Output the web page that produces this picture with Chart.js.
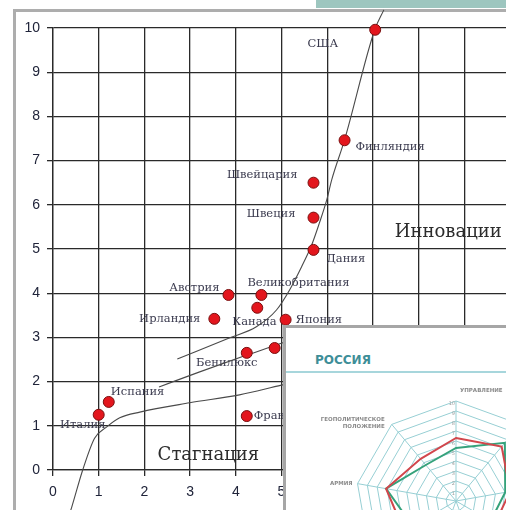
<!DOCTYPE html>
<html>
<head>
<meta charset="utf-8">
<script src="https://cdn.jsdelivr.net/npm/chart.js@4.4.1/dist/chart.umd.min.js"></script>
<style>
  body { margin: 0; width: 506px; height: 510px; overflow: hidden; background: #fff; position: relative; }
  #topband { position: absolute; left: 316px; top: 0; width: 190px; height: 8px; background: #9dc6bf; }
  #frame { position: absolute; left: 13px; top: 9px; width: 600px; height: 600px;
           border-left: 3px solid #adadad; border-top: 3px solid #adadad; }
  #mainChart { position: absolute; left: 0; top: 0; }
  #inset { position: absolute; left: 283px; top: 325px; width: 300px; height: 300px; background: #fff;
           border-left: 3px solid #a6a6a6; border-top: 3px solid #a6a6a6; overflow: hidden; }
  #inset .title { position: absolute; left: 29px; top: 26px; font: bold 12px "DejaVu Sans"; line-height: 12px;
                  color: #3e8e98; }
  #inset .rule { position: absolute; left: 0; top: 43px; width: 100%; height: 2px; background: #a7d6dc; }
  #radarChart { position: absolute; left: 20px; top: 23px; }
</style>
</head>
<body>
<div id="topband"></div>
<div id="frame"></div>
<canvas id="mainChart" width="560" height="540"></canvas>
<div id="inset">
  <div class="title">РОССИЯ</div>
  <div class="rule"></div>
  <canvas id="radarChart" width="300" height="300"></canvas>
</div>
<script>
// countries: x and y
var countries = ['США', 'Финляндия', 'Швейцария', 'Швеция', 'Дания', 'Великобритания', 'Канада', 'Япония',
                 'Австрия', 'Ирландия', 'Бенилюкс', 'Германия', 'Испания', 'Италия', 'Франция'];
var xVals = [7.05, 6.38, 5.70, 5.70, 5.70, 4.56, 4.47, 5.09, 3.84, 3.53, 4.24, 4.85, 1.22, 1.00, 4.24];
var yVals = [9.96, 7.46, 6.50, 5.71, 4.98, 3.96, 3.67, 3.40, 3.96, 3.42, 2.65, 2.76, 1.54, 1.25, 1.22];

// hand-drawn curves
var stagX = [0.36, 0.41, 0.65, 0.91, 1.17, 1.46, 1.90, 2.99, 4.08, 5.00, 5.80];
var stagY = [-1.00, -0.84, 0.00, 0.72, 0.97, 1.18, 1.31, 1.52, 1.70, 1.92, 2.10];
var midX = [2.32, 3.21, 4.24, 5.03, 5.60];
var midY = [1.88, 2.22, 2.60, 2.88, 3.10];
var innoX = [2.72, 3.87, 4.45, 4.89, 5.18, 5.44, 5.66, 5.83, 5.99, 6.10, 6.38, 7.04, 7.24];
var innoY = [2.51, 2.99, 3.24, 3.62, 4.08, 4.60, 5.09, 5.59, 6.11, 6.57, 7.47, 9.96, 10.41];

var zoneNames = ['Инновации', 'Стагнация'];
var zoneX = [8.65, 3.40];
var zoneY = [5.37, 0.34];

// inset radar
var radarAxes = ['УПРАВЛЕНИЕ', 'ЭКОНОМИКА', 'НАУКА', 'ТЕХНОЛОГИИ', 'ОБРАЗОВАНИЕ', 'ДЕМОГРАФИЯ', 'РЕСУРСЫ',
                 'АРМИЯ', ['ГЕОПОЛИТИЧЕСКОЕ', 'ПОЛОЖЕНИЕ']];
var radarRed = [6.3, 7.1, 5.5, 4.5, 6.0, 5.0, 6.0, 7.1, 5.5];
var radarGreen = [5.3, 7.6, 5.0, 4.0, 5.5, 4.5, 5.0, 7.1, 4.7];

function pairs(xs, ys) {
  return xs.map(function (x, i) { return {x: x, y: ys[i]}; });
}

// where each name sits next to its dot: [dx, dy, align]
var labelPlace = {
  'США': [-37, 14, 'right'], 'Финляндия': [11, 7, 'left'], 'Швейцария': [-16, -8, 'right'],
  'Швеция': [-18, -4, 'right'], 'Дания': [13, 9, 'left'], 'Великобритания': [-14, -12, 'left'],
  'Канада': [-25, 14, 'left'], 'Япония': [10, 0, 'left'], 'Австрия': [-9, -7, 'right'],
  'Ирландия': [-14, 0, 'right'], 'Бенилюкс': [-20, 10, 'center'], 'Германия': [10, 0, 'left'],
  'Испания': [2, -10, 'left'], 'Италия': [-16, 10, 'center'], 'Франция': [7, 0, 'left']
};

var labelPlugin = {
  id: 'countryLabels',
  beforeDatasetsDraw: function (chart) {
    var ctx = chart.ctx;
    var meta = chart.getDatasetMeta(0);
    ctx.save();
    ctx.textBaseline = 'middle';
    ctx.font = '11.5px "DejaVu Serif"';
    ctx.fillStyle = '#3a3a4e';
    meta.data.forEach(function (pt, i) {
      var p = labelPlace[countries[i]];
      ctx.textAlign = p[2];
      ctx.fillText(countries[i], pt.x + p[0], pt.y + p[1]);
    });
    ctx.font = '18px "DejaVu Serif"';
    ctx.fillStyle = '#2c2c2c';
    ctx.textAlign = 'center';
    zoneNames.forEach(function (z, i) {
      ctx.fillText(z, chart.scales.x.getPixelForValue(zoneX[i]), chart.scales.y.getPixelForValue(zoneY[i]));
    });
    ctx.restore();
  }
};

var tickFont = {family: '"Liberation Sans Narrow", "Liberation Sans", sans-serif', size: 14};
var gridLine = {color: '#2a2a2a', lineWidth: 1.3, tickLength: 6};

function curve(xs, ys) {
  return {type: 'line', data: pairs(xs, ys), borderColor: '#4a4a4a', borderWidth: 1.1,
          pointRadius: 0, fill: false, cubicInterpolationMode: 'monotone', clip: false};
}

var ctx_main = document.getElementById('mainChart').getContext('2d');
var mainChart = new Chart(ctx_main, {
  type: 'scatter',
  data: {
    datasets: [
      {data: pairs(xVals, yVals), backgroundColor: '#e3161d', borderColor: '#7a1010', borderWidth: 1,
       pointRadius: 5.5, clip: false},
      curve(stagX, stagY),
      curve(midX, midY),
      curve(innoX, innoY)
    ]
  },
  options: {
    responsive: false,
    animation: false,
    devicePixelRatio: 1,
    layout: {padding: {left: 0, right: 50, top: 28, bottom: 0}},
    plugins: {legend: {display: false}, tooltip: {enabled: false}},
    scales: {
      x: {type: 'linear', min: 0, max: 10,
          ticks: {stepSize: 1, padding: 8, color: '#20243a', font: tickFont},
          grid: gridLine, border: {color: '#2a2a2a', width: 1.3},
          afterFit: function (s) { s.height = 70; }},
      y: {min: 0, max: 10,
          ticks: {stepSize: 1, padding: 7, color: '#20243a', font: tickFont},
          grid: gridLine, border: {color: '#2a2a2a', width: 1.3},
          afterFit: function (s) { s.width = 53; }}
    }
  },
  plugins: [labelPlugin]
});

// radar labels and tick numbers, placed next to the axis ends
var radarLabelPlace = {0: [4, -10, 'left'], 1: [8, 0, 'left'], 2: [8, 0, 'left'], 3: [8, 4, 'left'],
                       7: [-5, 0, 'right'], 8: [-7, -5, 'right']};

var radarTextPlugin = {
  id: 'radarText',
  afterDraw: function (chart) {
    var ctx = chart.ctx;
    var r = chart.scales.r;
    ctx.save();
    ctx.textBaseline = 'middle';
    ctx.font = '5px "DejaVu Sans"';
    ctx.fillStyle = '#a0a0a0';
    ctx.textAlign = 'right';
    for (var v = 1; v <= 10; v++) {
      ctx.fillText(String(v), r.xCenter - 1, r.yCenter - r.getDistanceFromCenterForValue(v) + 3);
    }
    ctx.font = 'bold 5.5px "DejaVu Sans"';
    ctx.fillStyle = '#8a8a8a';
    radarAxes.forEach(function (lab, i) {
      var pos = r.getPointPosition(i, r.drawingArea);
      var p = radarLabelPlace[i] || [0, 10, 'center'];
      var lines = [].concat(lab);
      ctx.textAlign = p[2];
      lines.forEach(function (line, k) {
        ctx.fillText(line, pos.x + p[0], pos.y + p[1] + k * 7);
      });
    });
    ctx.restore();
  }
};

var ctx_radar = document.getElementById('radarChart').getContext('2d');
var radarChart = new Chart(ctx_radar, {
  type: 'radar',
  data: {
    labels: radarAxes,
    datasets: [
      {data: radarRed, borderColor: '#d2464c', borderWidth: 2, pointRadius: 0, fill: false},
      {data: radarGreen, borderColor: '#35a27b', borderWidth: 2, pointRadius: 0, fill: false}
    ]
  },
  options: {
    responsive: false,
    animation: false,
    devicePixelRatio: 1,
    layout: {padding: 50},
    plugins: {legend: {display: false}, tooltip: {enabled: false}},
    scales: {
      r: {min: 0, max: 10,
          ticks: {stepSize: 1, display: false},
          pointLabels: {display: false},
          grid: {color: '#97cfd4', lineWidth: 1},
          angleLines: {color: '#97cfd4', lineWidth: 1}}
    }
  },
  plugins: [radarTextPlugin]
});
</script>
</body>
</html>
